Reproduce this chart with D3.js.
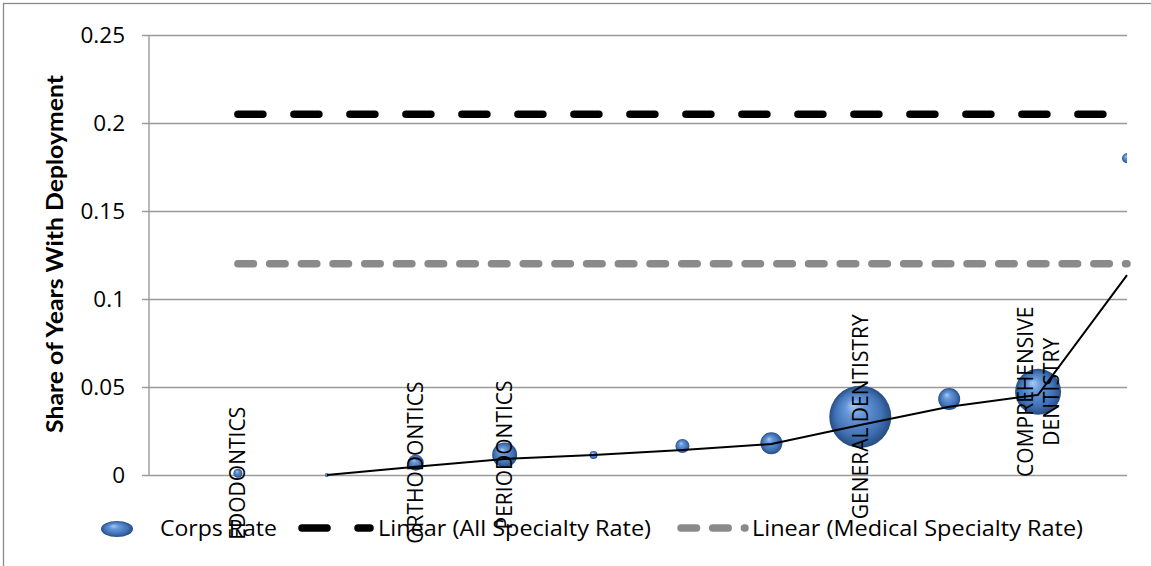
<!DOCTYPE html>
<html><head><meta charset="utf-8">
<script src="https://cdn.jsdelivr.net/npm/d3@7"></script>
<style>body{margin:0;background:#fff}</style>
</head><body>
<svg id="c" width="1151" height="566" xmlns="http://www.w3.org/2000/svg"></svg>
<script>
// ---- data ----
const xPos = [1, 2, 3, 4, 5, 6, 7, 8, 9, 10, 11];
const corpsRate = [0.001, 0, 0.007, 0.0114, 0.0114, 0.0165, 0.018, 0.0331, 0.0432, 0.0473, 0.180];
const bubbleSize = [20, 4, 64, 156, 16, 49, 121, 961, 121, 529, 25];
const specialtyLabels = ["EDODONTICS", "", "ORTHODONTICS", "PERIODONTICS", "", "", "", "GENERAL DENTISTRY", "", "COMPREHENSIVE|DENTISTRY", ""];
const connectLine = [null, 0, 0.0047, 0.0091, 0.0114, 0.0142, 0.0176, 0.0284, 0.0388, 0.0455, 0.1136];
const allSpecialtyTrend = [0.205, 0.205];
const medicalSpecialtyTrend = [0.12, 0.12];
const trendX = [1, 11];
const yTicks = [0, 0.05, 0.1, 0.15, 0.2, 0.25];
const yTickLabels = ["0", "0.05", "0.1", "0.15", "0.2", "0.25"];
const legendNames = ["Corps Rate", "Linear (All Specialty Rate)", "Linear (Medical Specialty Rate)"];
const yTitle = "Share of Years With Deployment";

// ---- layout ----
const svg = d3.select("#c");
const L = 149, R = 1127, T = 35, B = 475;
const x = d3.scaleLinear().domain([0, 11]).range([L, R]);
const y = d3.scaleLinear().domain([0, 0.25]).range([B, T]);
const r = d3.scaleSqrt().domain([0, d3.max(bubbleSize)]).range([0, 31]);

const defs = svg.append("defs");
const g = defs.append("radialGradient").attr("id", "bub")
  .attr("cx", "0.5").attr("cy", "0.5").attr("r", "0.5").attr("fx", "0.38").attr("fy", "0.3");
[[0, "#a9cbf5"], [0.3, "#6597d9"], [0.75, "#3f71b4"], [1, "#284c80"]].forEach(s =>
  g.append("stop").attr("offset", s[0]).attr("stop-color", s[1]));
defs.append("clipPath").attr("id", "clipR").append("rect")
  .attr("x", 0).attr("y", 0).attr("width", R).attr("height", 566);

// outer frame
svg.append("rect").attr("x", 3.5).attr("y", 3.5).attr("width", 1300).attr("height", 700)
  .attr("fill", "none").attr("stroke", "#8a8a8a").attr("stroke-width", 1.3);

// gridlines + ticks
const yAxis = d3.axisLeft(y).tickValues(yTicks).tickSize(-(R - L)).tickSizeOuter(0)
  .tickFormat((d, i) => yTickLabels[i]);
const ya = svg.append("g").attr("transform", `translate(${L},0)`).call(yAxis);
ya.select(".domain").remove();
ya.selectAll(".tick line").attr("stroke", "#9a9a9a").attr("stroke-width", 1.4).attr("x1", -7);
ya.selectAll(".tick text").remove();
svg.append("line").attr("x1", L).attr("x2", L).attr("y1", T).attr("y2", B)
  .attr("stroke", "#9a9a9a").attr("stroke-width", 1.4);

// tick labels
yTicks.forEach((v, i) => {
  svg.append("text").attr("x", 125).attr("y", y(v)).attr("dy", "0.36em")
    .attr("text-anchor", "end").attr("font-family", "Open Sans").attr("font-size", 22.5)
    .attr("fill", "#000").text(yTickLabels[i]);
});

// y title
svg.append("text").attr("transform", `translate(54,254) rotate(-90)`)
  .attr("text-anchor", "middle").attr("dominant-baseline", "central")
  .attr("font-family", "Lato").attr("font-weight", "bold").attr("font-size", 22)
  .attr("textLength", 358).attr("lengthAdjust", "spacingAndGlyphs").text(yTitle);

// trend lines
const trendLine = d3.line().x((d, i) => x(trendX[i])).y(d => y(d));
svg.append("path").datum(medicalSpecialtyTrend).attr("d", trendLine)
  .attr("fill", "none").attr("stroke", "#8a8a8a").attr("stroke-width", 7.5)
  .attr("stroke-linecap", "round").attr("stroke-dasharray", "15.5,16.2");
svg.append("path").datum(allSpecialtyTrend).attr("d", trendLine)
  .attr("fill", "none").attr("stroke", "#000").attr("stroke-width", 7.5)
  .attr("stroke-linecap", "round").attr("stroke-dasharray", "25,31");

// bubbles
const pts = xPos.map((xv, i) => ({ x: xv, y: corpsRate[i], s: bubbleSize[i] }));
svg.append("g").attr("clip-path", "url(#clipR)").selectAll("circle").data(pts).enter().append("circle")
  .attr("cx", d => x(d.x)).attr("cy", d => y(d.y)).attr("r", d => r(d.s))
  .attr("fill", "url(#bub)");

// connecting line
const lineData = xPos.map((xv, i) => ({ x: xv, v: connectLine[i] })).filter(d => d.v !== null);
svg.append("path").datum(lineData)
  .attr("d", d3.line().x(d => x(d.x)).y(d => y(d.v)))
  .attr("fill", "none").attr("stroke", "#000").attr("stroke-width", 2);

// legend
const ly = 528;
svg.append("ellipse").attr("cx", 117).attr("cy", ly + 1).attr("rx", 16).attr("ry", 8).attr("fill", "url(#bub)");
svg.append("line").attr("x1", 302).attr("x2", 370).attr("y1", ly).attr("y2", ly)
  .attr("stroke", "#000").attr("stroke-width", 7.5).attr("stroke-linecap", "round").attr("stroke-dasharray", "25,31");
svg.append("line").attr("x1", 681).attr("x2", 745).attr("y1", ly).attr("y2", ly)
  .attr("stroke", "#8a8a8a").attr("stroke-width", 7.5).attr("stroke-linecap", "round").attr("stroke-dasharray", "15.5,16.2");
const legX = [160, 378, 752], legW = [117, 273, 331];
legendNames.forEach((n, i) => {
  svg.append("text").attr("x", legX[i]).attr("y", ly).attr("dy", "0.36em")
    .attr("font-family", "Open Sans").attr("font-size", 22)
    .attr("textLength", legW[i]).attr("lengthAdjust", "spacingAndGlyphs").text(n);
});

// data labels
pts.forEach((p, i) => {
  const lab = specialtyLabels[i];
  if (!lab) return;
  const lines = lab.split("|");
  const t = svg.append("text").attr("transform", `translate(${x(p.x)},${y(p.y)}) rotate(-90)`)
    .attr("text-anchor", "middle").attr("font-family", "Open Sans").attr("font-size", 21)
    .attr("fill", "#000");
  lines.forEach((ln, j) => {
    const off = (j - (lines.length - 1) / 2) * 26;
    t.append("tspan").attr("x", 0).attr("y", off).attr("dy", "0.36em").text(ln);
  });
});
</script>
</body></html>
